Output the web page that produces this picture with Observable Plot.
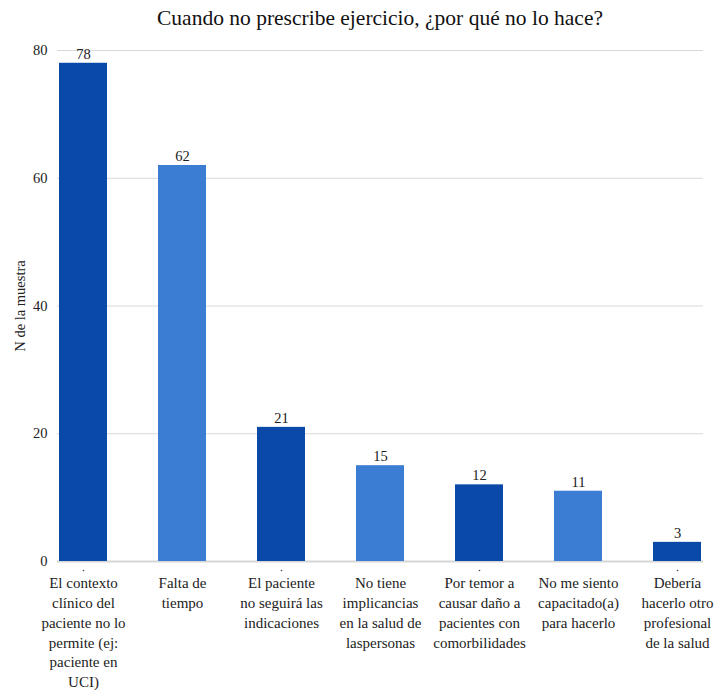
<!DOCTYPE html>
<html>
<head>
<meta charset="utf-8">
<script src="https://cdn.jsdelivr.net/npm/d3@7"></script>
<script src="https://cdn.jsdelivr.net/npm/@observablehq/plot@0.6"></script>
<style>
  html, body { margin: 0; padding: 0; background: #fff; }
  body { width: 720px; font-family: "Liberation Serif", "Times New Roman", Times, serif; }
  #title { height: 36px; line-height: 36px; padding: 0 17px 0 57px; text-align: center; font-size: 21.5px; color: #111; white-space: nowrap; }
  svg { display: block; }
  #chart svg, #chart svg text { font-family: "Liberation Serif", "Times New Roman", Times, serif !important; }
</style>
</head>
<body>
<div id="title">Cuando no prescribe ejercicio, ¿por qué no lo hace?</div>
<div id="chart"></div>
<script>
// Reasons for not prescribing exercise (one label per bar)
const categories = [
  "El contexto\nclínico del\npaciente no lo\npermite (ej:\npaciente en\nUCI)",
  "Falta de\ntiempo",
  "El paciente\nno seguirá las\nindicaciones",
  "No tiene\nimplicancias\nen la salud de\nlaspersonas",
  "Por temor a\ncausar daño a\npacientes con\ncomorbilidades",
  "No me siento\ncapacitado(a)\npara hacerlo",
  "Debería\nhacerlo otro\nprofesional\nde la salud"
];
const counts = [78, 62, 21, 15, 12, 11, 3];
const yTicks = [0, 20, 40, 60, 80];

const colors = ["#0a49a8", "#3a7dd2"];
const data = categories.map((c, i) => ({ reason: c, n: counts[i], shade: i % 2 }));
const oddCats = categories.filter((_, i) => i % 2 === 0);

const chart = Plot.plot({
  width: 720,
  height: 654,
  marginTop: 14,
  marginBottom: 129,
  marginLeft: 57,
  marginRight: 17,
  style: { fontSize: "14px", color: "#222", background: "#fff" },
  x: { domain: categories, paddingInner: 0.52, paddingOuter: 0 },
  y: { domain: [0, 80] },
  marks: [
    Plot.gridY(yTicks, { stroke: "#d9d9d9", strokeOpacity: 1 }),
    Plot.ruleY([0], { stroke: "#d6d6d6", strokeWidth: 2 }),
    Plot.barY(data, {
      x: "reason",
      y: "n",
      fill: d => colors[d.shade]
    }),
    Plot.text(data, {
      x: "reason",
      y: "n",
      text: d => String(d.n),
      dy: -9,
      fontSize: 14.5,
      fill: "#222"
    }),
    Plot.dot(oddCats, { x: d => d, y: () => 0, r: 0.8, dy: 9, fill: "#444", stroke: null }),
    Plot.axisY({
      ticks: yTicks,
      tickSize: 0,
      tickPadding: 10,
      fontSize: 14.5,
      label: "N de la muestra",
      labelAnchor: "center",
      labelArrow: "none",
      labelOffset: 43
    }),
    Plot.axisX({
      tickSize: 0,
      tickPadding: 12,
      fontSize: 15,
      lineHeight: 1.33,
      label: null
    })
  ]
});

document.getElementById("chart").appendChild(chart);
</script>
</body>
</html>
